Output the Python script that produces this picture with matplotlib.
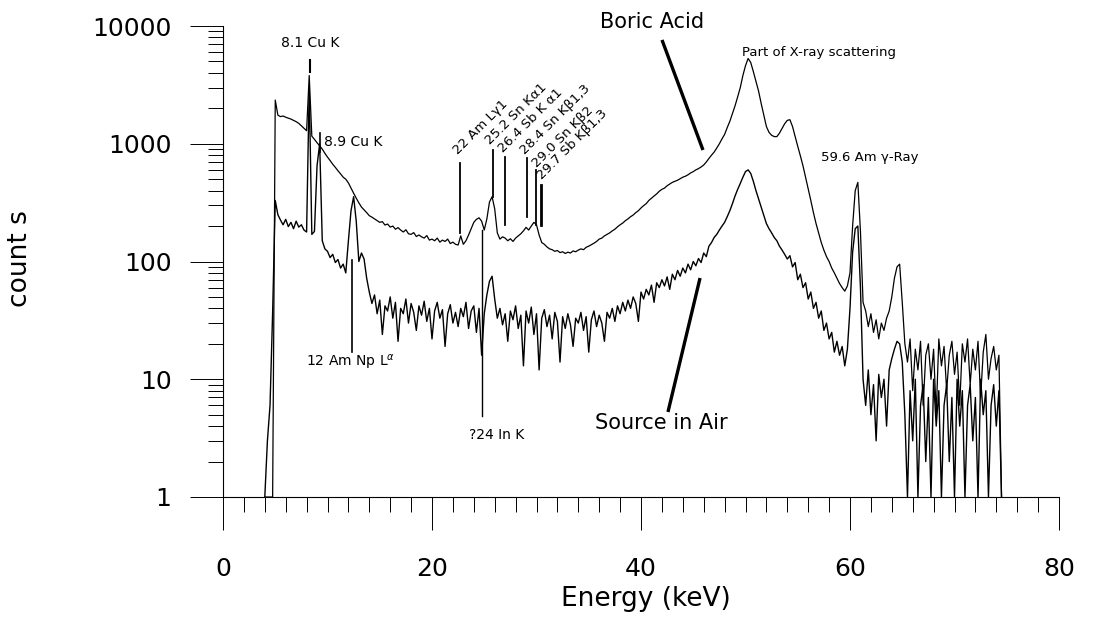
import matplotlib

matplotlib.use("Agg")
import matplotlib.pyplot as plt
import numpy as np
from matplotlib.ticker import FuncFormatter, LogLocator, MultipleLocator, NullFormatter

plt.rcParams["font.family"] = ["DejaVu Sans"]

# channel energies: 0.25 keV bins from 4.0 to 74.5 keV
E_START = 4.0
E_STEP = 0.25

# counts, one row per 5 keV
boric_acid = [
    1, 1, 1, 1, 2350, 1750, 1700, 1720, 1680, 1650, 1620, 1580, 1540, 1490, 1420, 1350, 1290, 3800, 1160, 1090,
    1020, 960, 900, 830, 770, 720, 670, 630, 590, 555, 520, 500, 465, 420, 380, 345, 315, 290, 275, 260,
    245, 238, 230, 222, 215, 218, 204, 208, 196, 200, 188, 194, 185, 178, 186, 172, 170, 176, 163, 168,
    162, 158, 166, 152, 155, 150, 158, 146, 152, 148, 155, 142, 146, 140, 138, 165, 140, 150, 168, 190,
    215, 228, 235, 220, 185, 230, 320, 355, 280, 175, 155, 162, 158, 150, 156, 148, 158, 165, 172, 182,
    195, 185, 200, 215, 205, 168, 145, 140, 133, 128, 126, 122, 124, 119, 121, 117, 120, 118, 123, 121,
    125, 128, 126, 132, 135, 139, 143, 148, 155, 158, 165, 170, 175, 182, 188, 197, 205, 212, 222, 230,
    240, 248, 260, 270, 285, 298, 310, 330, 345, 360, 375, 395, 410, 420, 440, 455, 470, 480, 490, 505,
    520, 530, 545, 565, 580, 600, 615, 635, 660, 700, 750, 800, 850, 920, 1000, 1100, 1200, 1370, 1550, 1800,
    2100, 2500, 3000, 3800, 4600, 5300, 4900, 4100, 3400, 2800, 2200, 1750, 1400, 1250, 1180, 1150, 1150, 1230, 1350, 1480,
    1580, 1600, 1400, 1150, 950, 790, 650, 520, 420, 330, 260, 210, 175, 145, 125, 110, 100, 88, 80, 72,
    65, 60, 56, 62, 80, 200, 400, 470, 180, 45, 38, 28, 36, 25, 32, 22, 30, 26, 33, 38,
    50, 72, 90, 95, 45, 20, 14, 22, 8, 18, 12, 21, 6, 16, 20, 10, 18, 5, 22, 13,
    19, 8, 16, 21, 11, 17, 6, 20, 14, 22, 9, 18, 12, 21, 7, 17, 24, 10, 15, 19,
    12, 16, 1,
]

source_in_air = [
    1, 3, 6, 37, 330, 250, 225, 205, 228, 198, 215, 190, 220, 196, 205, 185, 178, 3000, 170, 180,
    650, 1000, 150, 128, 122, 108, 115, 98, 104, 88, 95, 80, 150, 270, 355, 220, 100, 118, 105, 72,
    55, 44, 52, 36, 47, 24, 42, 38, 50, 33, 45, 21, 40, 36, 48, 30, 44, 37, 26, 42,
    35, 46, 31, 40, 22, 38, 45, 33, 39, 19, 36, 43, 30, 37, 28, 40, 34, 45, 27, 38,
    42, 25, 40, 16, 36, 52, 68, 75, 48, 33, 40, 29, 36, 21, 38, 32, 42, 27, 35, 13,
    38, 30, 41, 24, 36, 12, 33, 39, 28, 35, 22, 37, 31, 14, 34, 27, 36, 29, 19, 33,
    30, 37, 26, 34, 17, 32, 38, 28, 35, 30, 21, 37, 33, 40, 31, 42, 36, 45, 38, 47,
    40, 50, 44, 31, 55, 48, 58, 52, 63, 45, 66, 60, 70, 62, 74, 58, 78, 70, 84, 75,
    88, 80, 95, 85, 100, 92, 106, 98, 118, 110, 135, 145, 160, 170, 185, 200, 215, 240, 270, 310,
    360, 410, 460, 520, 580, 600, 560, 480, 400, 340, 290, 245, 210, 190, 175, 160, 150, 135, 125, 115,
    105, 112, 90, 98, 70, 78, 60, 66, 48, 55, 40, 45, 33, 38, 26, 30, 22, 25, 17, 21,
    16, 19, 13, 18, 40, 120, 190, 200, 60, 10, 6, 12, 5, 9, 3, 11, 7, 10, 4, 12,
    15, 18, 21, 20, 14, 5, 1, 8, 3, 10, 1, 6, 9, 2, 7, 1, 10, 4, 8, 1,
    6, 9, 2, 7, 1, 10, 4, 8, 1, 6, 9, 3, 7, 1, 10, 5, 8, 1, 6, 9,
    4, 8, 1,
]

# line labels: (text, anchor energy, anchor counts, line energy, line top, line bottom)
line_labels = [
    ("22 Am Lγ1", 22.0, 771, 22.68, 686, 175),
    ("25.2 Sn Kα1", 25.07, 938, 25.84, 885, 353),
    ("26.4 Sb K α1", 26.32, 802, 26.99, 772, 204),
    ("28.4 Sn Kβ1,3", 28.42, 771, 29.09, 757, 239),
    ("29.0 Sn Kβ2", 29.57, 598, 29.95, 598, 204),
    ("29.7 Sb Kβ1,3", 30.05, 473, 30.43, 446, 204),
]


def plot_spectrum(output_path="out.png"):
    energy = E_START + E_STEP * np.arange(len(boric_acid))

    fig = plt.figure(figsize=(10.99, 6.23), dpi=100)
    ax = fig.add_axes([223 / 1099, 1 - 497 / 623, 836 / 1099, 471 / 623])

    ax.plot(energy, boric_acid, color="black", lw=0.9)
    ax.plot(energy, source_in_air, color="black", lw=1.0)

    ax.set_yscale("log")
    ax.set_xlim(0, 80)
    ax.set_ylim(1, 10000)

    for side in ["top", "right"]:
        ax.spines[side].set_visible(False)
    for side in ["left", "bottom"]:
        ax.spines[side].set_linewidth(0.8)

    ax.xaxis.set_major_locator(MultipleLocator(20))
    ax.xaxis.set_minor_locator(MultipleLocator(2))
    ax.yaxis.set_major_locator(LogLocator(base=10))
    ax.yaxis.set_minor_locator(LogLocator(base=10, subs=np.arange(2, 10)))
    ax.yaxis.set_major_formatter(FuncFormatter(lambda v, p: f"{v:g}"))
    ax.yaxis.set_minor_formatter(NullFormatter())

    ax.tick_params(axis="both", which="major", direction="out", length=24, width=0.7, labelsize=18)
    ax.tick_params(axis="both", which="minor", direction="out", length=11, width=0.7)
    ax.tick_params(axis="x", which="major", pad=19)
    ax.tick_params(axis="y", which="major", pad=13)

    ax.set_xlabel("Energy (keV)", fontsize=19)
    ax.xaxis.set_label_coords(0.506, -0.19)
    ax.set_ylabel("count s", fontsize=19)
    ax.yaxis.set_label_coords(-0.227, 0.507)

    # peak labels
    ax.text(8.33, 7170, "8.1 Cu K", fontsize=10, ha="center", va="center")
    ax.plot([8.33, 8.33], [5140, 4070], color="black", lw=1.5)
    ax.plot([9.28, 9.28], [1234, 851], color="black", lw=1.2)
    ax.text(9.67, 1035, "8.9 Cu K", fontsize=10, ha="left", va="center")

    ax.plot([12.34, 12.34], [103, 17], color="black", lw=1.2)
    ax.text(12.25, 14.0, r"12 Am Np L$^{\alpha}$", fontsize=10, ha="center", va="center")

    ax.plot([24.78, 24.78], [185, 4.9], color="black", lw=1.0)
    ax.text(26.2, 3.36, "?24 In K", fontsize=10, ha="center", va="center")

    for text, te, tc, le, top, bottom in line_labels:
        ax.text(te + 0.7, tc, text, fontsize=9.5, rotation=45, rotation_mode="anchor",
                ha="left", va="bottom")
        lw = 2.0 if text.startswith("29.7") else 1.3
        ax.plot([le, le], [top, bottom], color="black", lw=lw)

    ax.text(41.05, 10800, "Boric Acid", fontsize=15, ha="center", va="center")
    ax.plot([42.01, 45.93], [7610, 885], color="black", lw=2.4, solid_capstyle="butt")

    ax.text(57.03, 6010, "Part of X-ray scattering", fontsize=9.5, ha="center", va="center")
    ax.text(61.9, 771, "59.6 Am γ-Ray", fontsize=9.5, ha="center", va="center")

    ax.text(41.9, 4.25, "Source in Air", fontsize=15, ha="center", va="center")
    ax.plot([45.65, 42.58], [72.4, 5.27], color="black", lw=2.4, solid_capstyle="butt")

    fig.savefig(output_path, dpi=100)
    plt.close(fig)


if __name__ == "__main__":
    plot_spectrum()
